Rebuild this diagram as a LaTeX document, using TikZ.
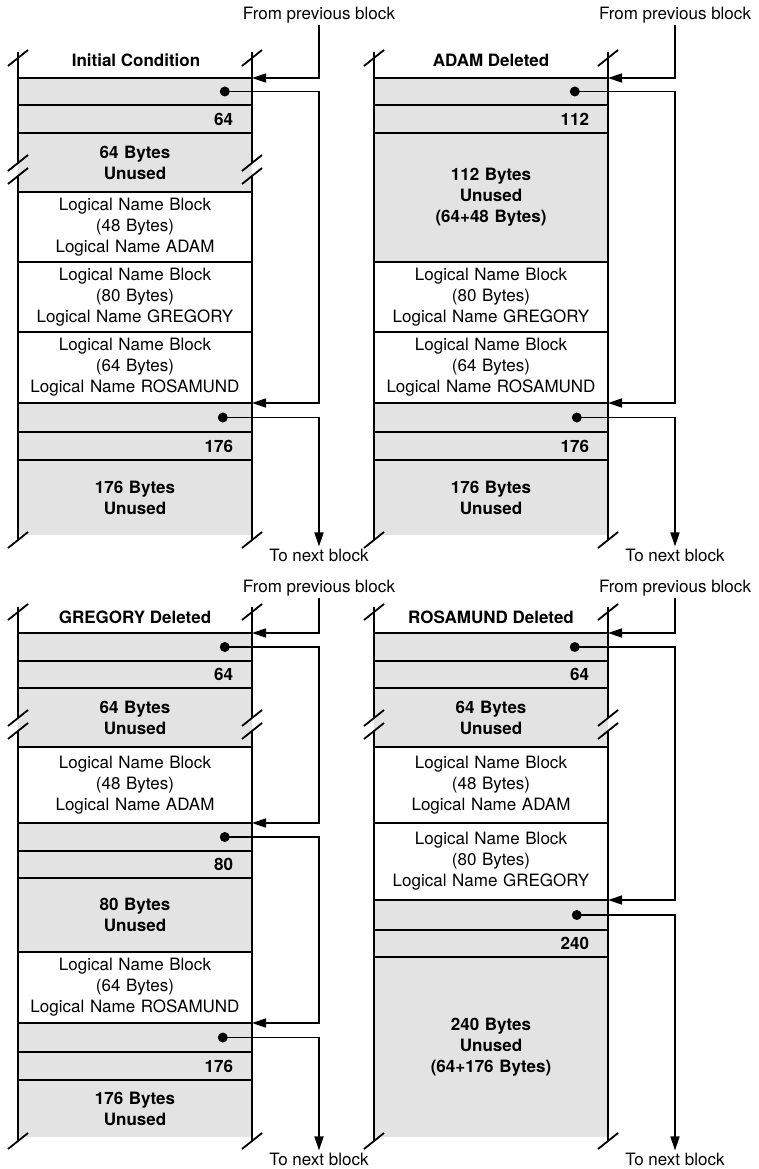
\documentclass[tikz,border=0pt]{standalone}
\usepackage{fontspec}
\setmainfont{TeX Gyre Heros}
\usetikzlibrary{arrows.meta,positioning}

\begin{document}
\begin{tikzpicture}[x=1pt, y=-1pt,
  font=\fontsize{17}{21}\selectfont,
  cell/.style={minimum width=234pt, inner sep=0pt, outer sep=0pt,
    text width=220pt, align=center},
  free/.style={cell, fill=gray!22,
    font=\fontsize{17}{21}\selectfont\bfseries},
  size/.style={free, text width=196pt, align=right},
  title/.style={font=\fontsize{17}{21}\selectfont\bfseries},
  note/.style={inner sep=2pt},
  dot/.style={circle, fill, inner sep=0pt, minimum size=10pt},
  rule/.style={line width=1.7pt},
  side/.style={line width=1.8pt},
  link/.style={line width=1.5pt, -{Triangle[length=14pt,width=9pt]}}
]
\useasboundingbox (0,0) rectangle (759,1169);

% Initial Condition
\node[note] (p1from) at (319,15) {From previous block};
\coordinate (p1bus) at (319,0);
\node[title] (p1title) at (136,60) {Initial Condition};
\node[free, anchor=north, minimum height=27pt] (p1r1) at (135,78) {};
\node[size, minimum height=28pt, below=0pt of p1r1] (p1r2) {64};
\node[free, minimum height=59pt, below=0pt of p1r2] (p1r3) {64 Bytes\\Unused};
\node[cell, minimum height=70pt, below=0pt of p1r3] (p1r4)
  {Logical Name Block\\(48 Bytes)\\Logical Name ADAM};
\node[cell, minimum height=70pt, below=0pt of p1r4] (p1r5)
  {Logical Name Block\\(80 Bytes)\\Logical Name GREGORY};
\node[cell, minimum height=71pt, below=0pt of p1r5] (p1r6)
  {Logical Name Block\\(64 Bytes)\\Logical Name ROSAMUND};
\node[free, minimum height=29pt, below=0pt of p1r6] (p1r7) {};
\node[size, minimum height=28pt, below=0pt of p1r7] (p1r8) {176};
\node[free, minimum height=75pt, below=0pt of p1r8] (p1r9) {176 Bytes\\Unused};
\node[dot, left=22pt of p1r1.east] (p1d1) {};
\node[dot, left=24pt of p1r7.east] (p1d2) {};
\node[note] (p1to) at (319,555) {To next block};
\foreach \r in {1,...,9}
  \draw[rule] (p1r\r.north west) -- (p1r\r.north east);
\draw[side] (18,52) -- (18,163) (18,176) -- (18,540)
  (252,52) -- (252,163) (252,176) -- (252,540);
\foreach \x/\y in {18/58, 252/58, 18/163, 18/176, 252/163, 252/176, 18/540, 252/540}
  \draw[side] (\x,\y) +(-10,8) -- +(10,-8);
\draw[link] (p1from) |- (p1r1.north east);
\draw[link] (p1d1.center) -- (p1d1 -| p1bus) |- (p1r7.north east);
\draw[link] (p1d2.center) -| (p1to);

% ADAM Deleted
\begin{scope}[shift={(356,0)}]
\node[note] (p2from) at (319,15) {From previous block};
\coordinate (p2bus) at (319,0);
\node[title] (p2title) at (135,60) {ADAM Deleted};
\node[free, anchor=north, minimum height=27pt] (p2r1) at (135,78) {};
\node[size, minimum height=28pt, below=0pt of p2r1] (p2r2) {112};
\node[free, minimum height=129pt, below=0pt of p2r2] (p2r3)
  {112 Bytes\\Unused\\(64+48 Bytes)};
\node[cell, minimum height=70pt, below=0pt of p2r3] (p2r4)
  {Logical Name Block\\(80 Bytes)\\Logical Name GREGORY};
\node[cell, minimum height=71pt, below=0pt of p2r4] (p2r5)
  {Logical Name Block\\(64 Bytes)\\Logical Name ROSAMUND};
\node[free, minimum height=29pt, below=0pt of p2r5] (p2r6) {};
\node[size, minimum height=28pt, below=0pt of p2r6] (p2r7) {176};
\node[free, minimum height=75pt, below=0pt of p2r7] (p2r8) {176 Bytes\\Unused};
\node[dot, left=28pt of p2r1.east] (p2d1) {};
\node[dot, left=26pt of p2r6.east] (p2d2) {};
\node[note] (p2to) at (319,555) {To next block};
\foreach \r in {1,...,8}
  \draw[rule] (p2r\r.north west) -- (p2r\r.north east);
\draw[side] (18,52) -- (18,540) (252,52) -- (252,540);
\foreach \x/\y in {18/58, 252/58, 18/540, 252/540}
  \draw[side] (\x,\y) +(-10,8) -- +(10,-8);
\draw[link] (p2from) |- (p2r1.north east);
\draw[link] (p2d1.center) -- (p2d1 -| p2bus) |- (p2r6.north east);
\draw[link] (p2d2.center) -| (p2to);
\end{scope}

% GREGORY Deleted
\begin{scope}[shift={(0,555)}]
\node[note] (p3from) at (319,33) {From previous block};
\coordinate (p3bus) at (319,0);
\node[title] (p3title) at (135,62) {GREGORY Deleted};
\node[free, anchor=north, minimum height=28pt] (p3r1) at (135,78) {};
\node[size, minimum height=27pt, below=0pt of p3r1] (p3r2) {64};
\node[free, minimum height=59pt, below=0pt of p3r2] (p3r3) {64 Bytes\\Unused};
\node[cell, minimum height=76pt, below=0pt of p3r3] (p3r4)
  {Logical Name Block\\(48 Bytes)\\Logical Name ADAM};
\node[free, minimum height=28pt, below=0pt of p3r4] (p3r5) {};
\node[size, minimum height=27pt, below=0pt of p3r5] (p3r6) {80};
\node[free, minimum height=74pt, below=0pt of p3r6] (p3r7) {80 Bytes\\Unused};
\node[cell, minimum height=71pt, below=0pt of p3r7] (p3r8)
  {Logical Name Block\\(64 Bytes)\\Logical Name ROSAMUND};
\node[free, minimum height=29pt, below=0pt of p3r8] (p3r9) {};
\node[size, minimum height=28pt, below=0pt of p3r9] (p3r10) {176};
\node[free, minimum height=57pt, below=0pt of p3r10] (p3r11) {176 Bytes\\Unused};
\node[dot, left=22pt of p3r1.east] (p3d1) {};
\node[dot, left=22pt of p3r5.east] (p3d2) {};
\node[dot, left=24pt of p3r9.east] (p3d3) {};
\node[note] (p3to) at (319,604) {To next block};
\foreach \r in {1,...,11}
  \draw[rule] (p3r\r.north west) -- (p3r\r.north east);
\draw[side] (18,52) -- (18,163) (18,176) -- (18,586)
  (252,52) -- (252,163) (252,176) -- (252,586);
\foreach \x/\y in {18/57, 252/57, 18/163, 18/176, 252/163, 252/176, 18/586, 252/586}
  \draw[side] (\x,\y) +(-10,8) -- +(10,-8);
\draw[link] (p3from) |- (p3r1.north east);
\draw[link] (p3d1.center) -- (p3d1 -| p3bus) |- (p3r5.north east);
\draw[link] (p3d2.center) -- (p3d2 -| p3bus) |- (p3r9.north east);
\draw[link] (p3d3.center) -| (p3to);
\end{scope}

% ROSAMUND Deleted
\begin{scope}[shift={(356,555)}]
\node[note] (p4from) at (319,33) {From previous block};
\coordinate (p4bus) at (319,0);
\node[title] (p4title) at (135,62) {ROSAMUND Deleted};
\node[free, anchor=north, minimum height=28pt] (p4r1) at (135,78) {};
\node[size, minimum height=27pt, below=0pt of p4r1] (p4r2) {64};
\node[free, minimum height=59pt, below=0pt of p4r2] (p4r3) {64 Bytes\\Unused};
\node[cell, minimum height=76pt, below=0pt of p4r3] (p4r4)
  {Logical Name Block\\(48 Bytes)\\Logical Name ADAM};
\node[cell, minimum height=77pt, below=0pt of p4r4] (p4r5)
  {Logical Name Block\\(80 Bytes)\\Logical Name GREGORY};
\node[free, minimum height=30pt, below=0pt of p4r5] (p4r6) {};
\node[size, minimum height=27pt, below=0pt of p4r6] (p4r7) {240};
\node[free, minimum height=180pt, below=0pt of p4r7] (p4r8)
  {240 Bytes\\Unused\\(64+176 Bytes)};
\node[dot, left=28pt of p4r1.east] (p4d1) {};
\node[dot, left=26pt of p4r6.east] (p4d2) {};
\node[note] (p4to) at (319,604) {To next block};
\foreach \r in {1,...,8}
  \draw[rule] (p4r\r.north west) -- (p4r\r.north east);
\draw[side] (18,52) -- (18,163) (18,176) -- (18,586)
  (252,52) -- (252,163) (252,176) -- (252,586);
\foreach \x/\y in {18/57, 252/57, 18/163, 18/176, 252/163, 252/176, 18/586, 252/586}
  \draw[side] (\x,\y) +(-10,8) -- +(10,-8);
\draw[link] (p4from) |- (p4r1.north east);
\draw[link] (p4d1.center) -- (p4d1 -| p4bus) |- (p4r6.north east);
\draw[link] (p4d2.center) -| (p4to);
\end{scope}
\end{tikzpicture}
\end{document}
